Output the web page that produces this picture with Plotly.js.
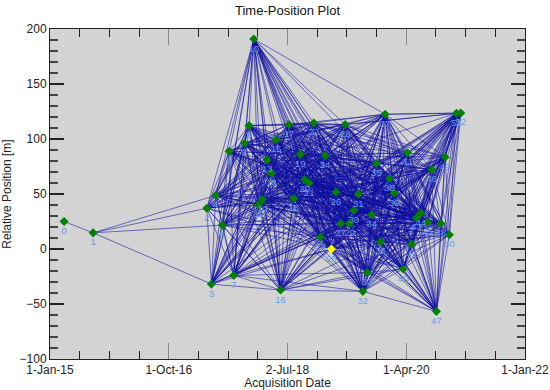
<!DOCTYPE html>
<html>
<head>
<meta charset="utf-8">
<script src="https://cdn.plot.ly/plotly-3.0.1.min.js"></script>
<style>html,body{margin:0;padding:0;background:#fff;}#chart{width:550px;height:390px;}</style>
</head>
<body>
<div id="chart"></div>
<script>
// Acquisition dates (sorted, index = label)
var dates = [
  '2015-03-18','2015-08-21','2017-04-24','2017-05-19','2017-06-11','2017-07-17','2017-08-22','2017-09-16',
  '2017-11-13','2017-12-08','2018-01-02','2018-01-27','2018-02-18','2018-03-15','2018-04-07','2018-05-02',
  '2018-05-26','2018-07-11','2018-08-05','2018-09-10','2018-10-03','2018-10-27','2018-11-21','2018-12-27',
  '2019-01-21','2019-02-24','2019-03-21','2019-04-15','2019-05-09','2019-06-01','2019-06-24','2019-07-19',
  '2019-08-12','2019-09-04','2019-09-29','2019-10-24','2019-11-15','2019-12-10','2020-01-02','2020-01-27',
  '2020-03-16','2020-04-08','2020-05-01','2020-05-27','2020-06-19','2020-07-25','2020-08-17','2020-09-11',
  '2020-10-05','2020-10-28','2020-11-20','2020-12-28','2021-01-20'
];
// Relative position [m]
var positions = [
  25.0, 14.7, 37.1, -31.9, 48.7, 21.7, 88.9, -24.0,
  96.2, 112.2, 190.9, 40.2, 45.0, 81.0, 68.9, 99.2,
  -37.3, 113.1, 45.9, 85.9, 63.2, 59.9, 114.6, 10.8,
  84.7, 0.0, 51.7, 23.2, 113.1, 23.2, 35.3, 49.9,
  -38.5, -21.3, 31.4, 77.7, 6.6, 122.5, 63.8, 50.8,
  -18.2, 87.4, 4.5, 28.4, 32.6, 24.4, 72.3, -56.7,
  23.2, 83.5, 13.0, 123.4, 123.7
];
var referenceIndex = 25;
var maxTemporalBaselineDays = 720;

var tickDates = ['2015-01-01','2016-10-01 06:00','2018-07-02 12:00','2020-04-01 18:00','2022-01-01'];
var tickLabels = ['1-Jan-15','1-Oct-16','2-Jul-18','1-Apr-20','1-Jan-22'];

var labels = dates.map(function(d, i){ return String(i); });

function toMs(s){ return new Date(s.replace(' ', 'T') + 'Z').getTime(); }
var DAY = 86400000;

// interferogram pair network: one trace per master image
var traces = [];
for (var i = 0; i < dates.length; i++) {
  var xs = [], ys = [];
  for (var j = i + 1; j < dates.length; j++) {
    var dt = (toMs(dates[j]) - toMs(dates[i])) / DAY;
    if (dt <= maxTemporalBaselineDays) {
      xs.push(dates[i], dates[j], null);
      ys.push(positions[i], positions[j], null);
    }
  }
  if (xs.length) {
    traces.push({
      type: 'scatter', mode: 'lines', x: xs, y: ys,
      line: {color: 'rgba(12,12,160,0.55)', width: 1},
      hoverinfo: 'skip', showlegend: false
    });
  }
}

traces.push({
  type: 'scatter', mode: 'markers+text',
  x: dates, y: positions, text: labels,
  textposition: 'bottom center',
  textfont: {family: 'Liberation Sans, Arial, sans-serif', size: 9.5, color: 'rgb(100,155,240)'},
  marker: {
    symbol: 'diamond', size: 7,
    color: dates.map(function(d, i){ return i === referenceIndex ? '#ffff00' : '#008000'; }),
    line: {width: 0}
  },
  cliponaxis: false, showlegend: false
});

// minor ticks: 4 subdivisions between major date ticks
var minorVals = [];
for (var k = 0; k < tickDates.length - 1; k++) {
  var a = toMs(tickDates[k]), b = toMs(tickDates[k + 1]);
  for (var m = 1; m < 4; m++) minorVals.push(new Date(a + (b - a) * m / 4).toISOString().replace('T', ' ').replace('Z', ''));
}

var font = {family: 'Liberation Sans, Arial, sans-serif', size: 12, color: '#222'};

var layout = {
  width: 550, height: 390,
  margin: {l: 50, r: 25, t: 29, b: 31},
  paper_bgcolor: '#ffffff',
  plot_bgcolor: 'rgb(211,211,211)',
  font: font,
  title: {
    text: 'Time-Position Plot',
    font: {family: 'Liberation Sans, Arial, sans-serif', size: 13, color: '#111'},
    x: 0.5, xref: 'paper', xanchor: 'center',
    y: 0.972, yref: 'container', yanchor: 'middle'
  },
  xaxis: {
    type: 'date',
    range: ['2015-01-01', '2022-01-01'],
    tickmode: 'array', tickvals: tickDates, ticktext: tickLabels,
    ticks: 'inside', ticklen: 16, tickwidth: 1, tickcolor: '#888',
    showline: true, linecolor: '#222', linewidth: 1, mirror: 'ticks',
    showgrid: false, zeroline: false,
    tickfont: font,
    minor: {tickmode: 'array', tickvals: minorVals, ticks: 'inside', ticklen: 8, tickcolor: '#222', showgrid: false},
    title: {text: 'Acquisition Date', font: font, standoff: 2}
  },
  yaxis: {
    range: [-100, 200],
    tickmode: 'linear', tick0: 0, dtick: 50,
    ticks: 'inside', ticklen: 14, tickwidth: 1.5, tickcolor: '#222',
    showline: true, linecolor: '#222', linewidth: 1, mirror: 'ticks',
    showgrid: false, zeroline: false,
    tickfont: font,
    minor: {dtick: 10, tick0: 0, ticks: 'inside', ticklen: 8, tickcolor: '#444', showgrid: false},
    title: {text: 'Relative Position [m]', font: font, standoff: 6}
  }
};

Plotly.newPlot('chart', traces, layout, {staticPlot: true, displayModeBar: false});
</script>
</body>
</html>
